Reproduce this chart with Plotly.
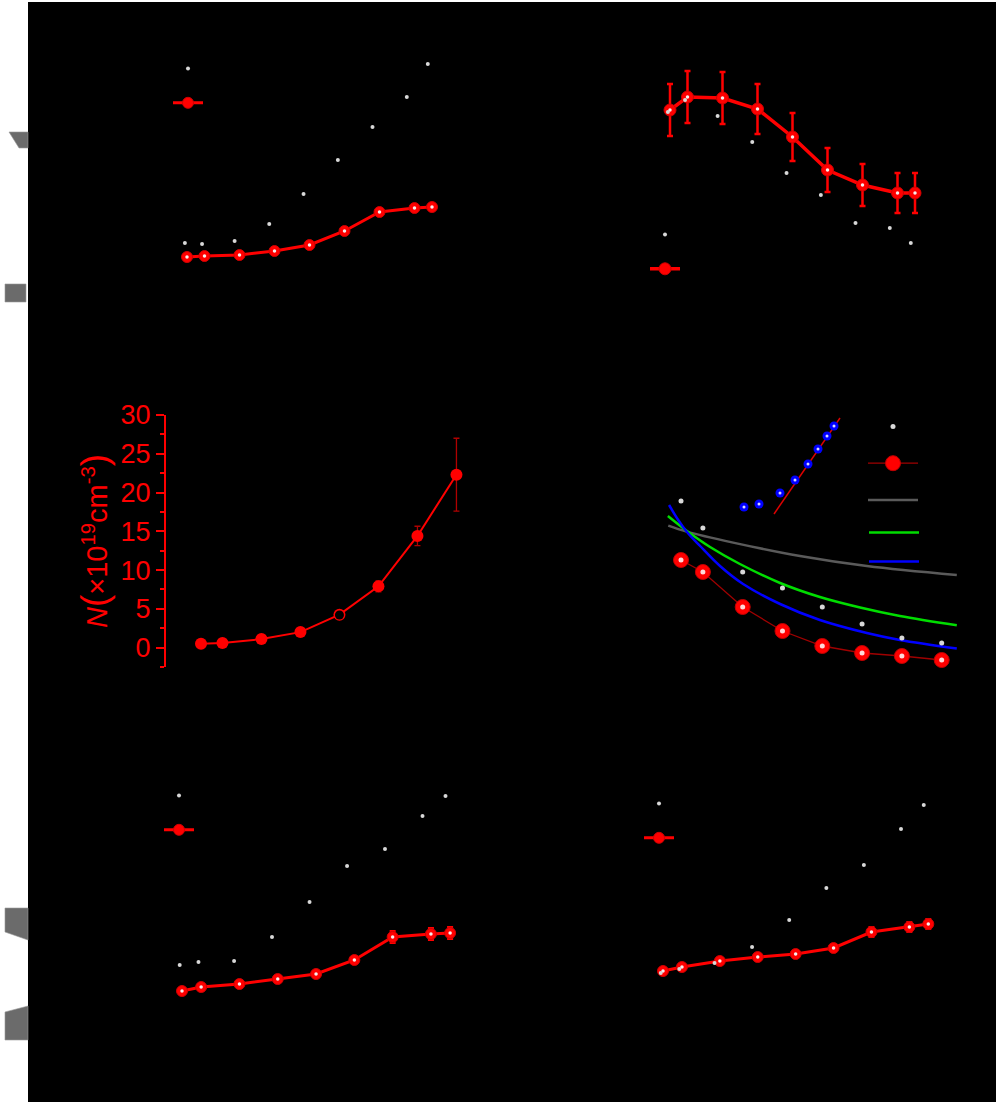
import plotly.graph_objects as go

W, H = 996, 1102

# ---------------- data ----------------
X9 = [0.5, 1, 2, 3, 4, 5, 6, 7, 7.5]                       # top / bottom panels
XB = [0.44, 0.93, 1.86, 2.85, 3.83, 4.81, 5.80, 6.78, 7.38]  # black-sphere series
X8 = [0.45, 1, 2, 3, 4, 5, 6, 7]                            # middle panels

tl_red = [1.3, 1.4, 1.5, 1.9, 2.5, 3.9, 5.8, 6.2, 6.3]
tl_red_err = [0, 0, 0, 0, 0, 0, 0.3, 0.3, 0.3]
tl_black = [0.85, 0.8, 0.95, 1.8, 3.3, 5.0, 6.65, 8.15, 9.8]

tr_red = [19.0, 20.3, 20.2, 19.1, 16.3, 13.0, 11.5, 10.7, 10.7]
tr_red_err = [2.6, 2.6, 2.6, 2.5, 2.4, 2.2, 2.1, 2.0, 2.0]
tr_black = [7.4, 8.0, 7.2, 5.9, 4.35, 3.25, 1.85, 1.6, 0.85]

ml_N = [0.5, 0.6, 1.1, 2.0, 4.25, 7.9, 14.4, 22.3]
ml_N_err = [0.1, 0.1, 0.15, 0.2, 0.3, 0.7, 1.25, 4.7]
ml_black_x = [4]
ml_black = [4.2]

mr_red = [60, 54, 36.5, 24.5, 17, 13.5, 12, 10]
mr_black = [89.5, 76, 54, 46, 36.5, 28, 21, 18.5]
gray_x = [0.13, 0.59, 1.76, 3.44, 5.12, 7.38]
gray_y = [77.2, 74.2, 68.7, 62.0, 57.0, 52.5]
green_x = [0.12, 0.60, 1.18, 1.93, 2.94, 3.94, 4.95, 5.95, 7.38]
green_y = [82.0, 74.5, 66.5, 58.0, 48.5, 41.5, 36.25, 32.0, 27.35]
blue_x = [0.15, 0.38, 0.60, 0.93, 1.43, 2.01, 2.94, 3.94, 5.12, 5.95, 7.38]
blue_y = [87.5, 80.0, 74.0, 67.0, 57.0, 48.0, 38.0, 30.0, 23.5, 20.0, 15.75]

ins_x = [0.4, 1.9, 4.0, 5.5, 6.8, 7.8, 8.7, 9.4]
ins_y = [1.3, 1.6, 2.7, 4.0, 5.6, 7.1, 8.4, 9.4]
fit_x = [3.4, 10.0]
fit_y = [0.6, 10.2]

bl_red = [0.9, 1.3, 1.6, 2.1, 2.6, 4.0, 6.3, 6.6, 6.7]
bl_red_err = [0, 0, 0, 0, 0, 0, 0.6, 0.6, 0.6]
bl_black = [1.25, 1.4, 1.45, 2.65, 4.4, 6.2, 7.05, 8.7, 9.7]

br_red = [2.9, 3.3, 3.9, 4.3, 4.6, 5.2, 6.8, 7.3, 7.6]
br_red_err = [0.3, 0, 0, 0, 0, 0, 0.5, 0.5, 0.5]
br_black = [0.85, 1.05, 1.35, 2.15, 3.5, 5.1, 6.25, 8.05, 9.25]

N_ticks = [0, 5, 10, 15, 20, 25, 30]

# ---------------- helpers (layout geometry) ----------------
def xdom(L, R):
    return [L / W, R / W]

def ydom(T, B):
    return [1 - B / H, 1 - T / H]

def xr(L, R, v0, p0, ppu):
    return [v0 + (L - p0) / ppu, v0 + (R - p0) / ppu]

def yr(T, B, v0, p0, ppu):
    return [v0 - (B - p0) / ppu, v0 + (p0 - T) / ppu]

def hidden(domain, rng, **kw):
    d = dict(visible=False, domain=domain, range=rng, fixedrange=True)
    d.update(kw)
    return d

RED = "#ff0000"
HL = "#f6eeee"
FONT = "Liberation Sans, Arial, sans-serif"

fig = go.Figure()

def panel_traces(xa, ya_red, ya_blk, red, red_err, blk, lg, lw=3, msize=11,
                 err_w=3, err_th=2):
    # black spheres: only their highlights show on the black page
    fig.add_trace(go.Scatter(x=XB, y=blk, mode="markers", xaxis=xa, yaxis=ya_blk,
                             marker=dict(size=4, color="#d8d8d8"),
                             name="Ref.", legend=lg, showlegend=True))
    fig.add_trace(go.Scatter(x=X9, y=red, mode="lines+markers", xaxis=xa, yaxis=ya_red,
                             line=dict(color=RED, width=lw),
                             marker=dict(size=msize, color=RED, line=dict(color="#d00000", width=1)),
                             error_y=dict(type="data", array=red_err, color=RED,
                                          thickness=err_th, width=err_w, visible=True),
                             name="Exp.", legend=lg, showlegend=True))
    fig.add_trace(go.Scatter(x=X9, y=red, mode="markers", xaxis=xa, yaxis=ya_red,
                             marker=dict(size=3.5, color=HL), showlegend=False,
                             hoverinfo="skip"))

layout = dict(
    width=W, height=H, margin=dict(l=0, r=0, t=0, b=0, autoexpand=False),
    paper_bgcolor="white", plot_bgcolor="rgba(0,0,0,0)",
    font=dict(family=FONT, color="black"),
    showlegend=True,
)

# ----- TL -----
layout["xaxis"] = hidden(xdom(150, 470), xr(150, 470, 0.5, 187, 35), anchor="y")
layout["yaxis"] = hidden(ydom(40, 290), yr(40, 290, 0, 270, 10), anchor="x")
layout["yaxis2"] = hidden(ydom(40, 290), yr(40, 290, 0, 260, 20), anchor="x",
                          overlaying="y", side="right")
panel_traces("x", "y", "y2", tl_red, tl_red_err, tl_black, "legend")

# ----- TR -----
layout["xaxis2"] = hidden(xdom(630, 960), xr(630, 960, 0.5, 670, 35), anchor="y3")
layout["yaxis3"] = hidden(ydom(40, 290), yr(40, 290, 0, 300, 10), anchor="x2")
layout["yaxis4"] = hidden(ydom(40, 290), yr(40, 290, 0, 260, 20), anchor="x2",
                          overlaying="y3", side="right")
panel_traces("x2", "y3", "y4", tr_red, tr_red_err, tr_black, "legend2",
             lw=3.5, msize=12, err_w=3, err_th=2.5)

# ----- ML (visible red N axis) -----
layout["xaxis3"] = hidden(xdom(166, 480), xr(166, 480, 0.45, 201, 39), anchor="y5")
layout["yaxis5"] = dict(
    domain=ydom(415, 667), range=[-2.5, 30], anchor="x3", fixedrange=True,
    showline=True, linecolor=RED, linewidth=2, showgrid=False, zeroline=False,
    tickmode="array", tickvals=N_ticks, ticks="outside", ticklen=8, tickwidth=2,
    tickcolor=RED, tickfont=dict(size=27, color=RED, family=FONT),
    minor=dict(dtick=2.5, ticks="outside", ticklen=4, tickwidth=2, tickcolor=RED),
    title=dict(text="<i>N</i><span style='font-size:37px'>(</span>×10<sup>19</sup>cm<sup>-3</sup><span style='font-size:37px'>)</span>",
               font=dict(size=29, color=RED, family=FONT), standoff=4),
)
fig.add_trace(go.Scatter(x=X8, y=ml_N, mode="lines+markers", xaxis="x3", yaxis="y5",
                         line=dict(color=RED, width=2),
                         marker=dict(size=12, color=RED),
                         error_y=dict(type="data", array=ml_N_err, color="#b00000",
                                      thickness=1.3, width=3),
                         showlegend=False, name="N"))
fig.add_trace(go.Scatter(x=ml_black_x, y=ml_black, mode="markers", xaxis="x3", yaxis="y5",
                         marker=dict(size=9, color="black"), showlegend=False))

# ----- MR -----
layout["xaxis4"] = hidden(xdom(640, 970), xr(640, 970, 0.45, 681, 39.8), anchor="y6")
layout["yaxis6"] = hidden(ydom(400, 690), yr(400, 690, 0, 680, 2), anchor="x4")
fig.add_trace(go.Scatter(x=gray_x, y=gray_y, mode="lines", xaxis="x4", yaxis="y6",
                         line=dict(color="#5a5a5a", width=2.5, shape="spline", smoothing=1.0),
                         name="m1", legend="legend3", legendrank=3))
fig.add_trace(go.Scatter(x=green_x, y=green_y, mode="lines", xaxis="x4", yaxis="y6",
                         line=dict(color="#00dd00", width=2.5, shape="spline", smoothing=1.0),
                         name="m2", legend="legend6", legendrank=1))
fig.add_trace(go.Scatter(x=blue_x, y=blue_y, mode="lines", xaxis="x4", yaxis="y6",
                         line=dict(color="#0000ff", width=2.5, shape="spline", smoothing=1.0),
                         name="m3", legend="legend6", legendrank=2))
fig.add_trace(go.Scatter(x=X8, y=mr_black, mode="markers", xaxis="x4", yaxis="y6",
                         marker=dict(size=5, color="#d8d8d8"),
                         name="Ref.", legend="legend3", legendrank=1))
fig.add_trace(go.Scatter(x=X8, y=mr_red, mode="lines+markers", xaxis="x4", yaxis="y6",
                         line=dict(color="#a00000", width=1.3),
                         marker=dict(size=15, color=RED, line=dict(color="#c00000", width=1)),
                         name="Exp.", legend="legend3", legendrank=2))
fig.add_trace(go.Scatter(x=X8, y=mr_red, mode="markers", xaxis="x4", yaxis="y6",
                         marker=dict(size=5, color="#ffdada"), showlegend=False,
                         hoverinfo="skip"))

# ----- MR inset -----
layout["xaxis5"] = hidden(xdom(730, 850), xr(730, 850, 0, 740, 10), anchor="y7")
layout["yaxis7"] = hidden(ydom(410, 525), yr(410, 525, 0, 520, 10), anchor="x5")
fig.add_trace(go.Scatter(x=fit_x, y=fit_y, mode="lines", xaxis="x5", yaxis="y7",
                         line=dict(color="#dd0000", width=1.5), showlegend=False))
fig.add_trace(go.Scatter(x=ins_x, y=ins_y, mode="markers", xaxis="x5", yaxis="y7",
                         marker=dict(size=9, color="#0000ff"), showlegend=False))
fig.add_trace(go.Scatter(x=ins_x, y=ins_y, mode="markers", xaxis="x5", yaxis="y7",
                         marker=dict(size=3, color="#d8d8ff"), showlegend=False,
                         hoverinfo="skip"))

# ----- BL -----
layout["xaxis6"] = hidden(xdom(150, 470), xr(150, 470, 0.5, 182, 38.3), anchor="y8")
layout["yaxis8"] = hidden(ydom(770, 1020), yr(770, 1020, 0, 1000, 10), anchor="x6")
layout["yaxis9"] = hidden(ydom(770, 1020), yr(770, 1020, 0, 990, 20), anchor="x6",
                          overlaying="y8", side="right")
panel_traces("x6", "y8", "y9", bl_red, bl_red_err, bl_black, "legend4")

# ----- BR -----
layout["xaxis7"] = hidden(xdom(630, 960), xr(630, 960, 0.5, 663, 37.9), anchor="y10")
layout["yaxis10"] = hidden(ydom(770, 1020), yr(770, 1020, 0, 1000, 10), anchor="x7")
layout["yaxis11"] = hidden(ydom(770, 1020), yr(770, 1020, 0, 990, 20), anchor="x7",
                           overlaying="y10", side="right")
panel_traces("x7", "y10", "y11", br_red, br_red_err, br_black, "legend5")

# ----- legends (text is black, as in the reference) -----
def leg(left_px, top_px, size=24, iw=30):
    return dict(x=left_px / W, y=1 - top_px / H, xanchor="left", yanchor="top",
                bgcolor="rgba(0,0,0,0)", borderwidth=0, itemwidth=iw,
                font=dict(size=size, color="black", family=FONT),
                traceorder="normal")

layout["legend"] = leg(168, 46.5)
layout["legend2"] = leg(645, 212.5)
layout["legend4"] = leg(159, 773.5)
layout["legend5"] = leg(639, 781.5)
layout["legend3"] = leg(863, 403, size=26, iw=50)
layout["legend6"] = leg(864, 513, size=20, iw=50)

# ----- page decoration: black sheet and grey frame fragments -----
def P(x, y):
    return x / W, 1 - y / H

def poly(pts):
    s = ""
    for i, (x, y) in enumerate(pts):
        px, py = P(x, y)
        s += ("M" if i == 0 else "L") + f"{px:.5f},{py:.5f} "
    return s + "Z"

shapes = [dict(type="rect", xref="paper", yref="paper", layer="below",
               x0=28 / W, x1=1.0, y0=0, y1=1 - 2 / H,
               fillcolor="black", line=dict(width=0))]
grey_polys = [
    [(9, 132), (28, 132), (28, 148), (19, 148)],
    [(5, 284), (26, 284), (26, 302), (5, 302)],
    [(5, 908), (28, 908), (28, 940), (5, 932)],
    [(5, 1012), (28, 1006), (28, 1040), (5, 1040)],
]
for pg in grey_polys:
    shapes.append(dict(type="path", xref="paper", yref="paper", layer="below",
                       path=poly(pg), fillcolor="#6b6b6b",
                       line=dict(color="#9a9a9a", width=0.6)))
layout["shapes"] = shapes

fig.update_layout(**layout)
fig.write_html("out.html", config={"displayModeBar": False, "staticPlot": True},
               post_script="document.body.style.margin='0';document.body.style.overflow='hidden';")
